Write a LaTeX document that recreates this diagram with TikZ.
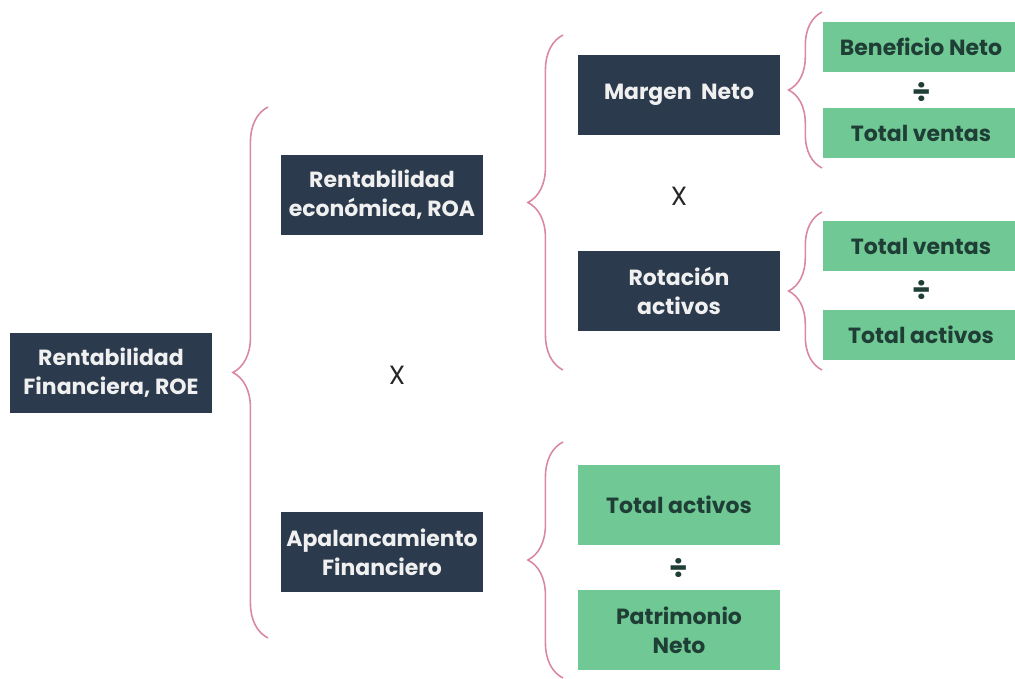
\documentclass[tikz,border=0pt]{standalone}
\usepackage{fontspec}
\setmainfont{Poppins}
\usetikzlibrary{decorations.pathreplacing}

\definecolor{navy}{HTML}{2B3A4D}
\definecolor{mint}{HTML}{70C995}
\definecolor{rosa}{HTML}{D9899F}
\definecolor{pine}{HTML}{1F3E36}

\begin{document}
\begin{tikzpicture}[x=0.02cm,y=-0.02cm]
    \useasboundingbox (0,0) rectangle (1015,679);
    \begin{scope}[every node/.style={align=center,inner sep=0pt,font=\fontsize{12.5}{16.5}\selectfont\bfseries}]
        \begin{scope}[every node/.append style={fill=navy,text=white!94!black,minimum width=4.06cm,minimum height=1.6cm}]
            \node (roe) at (111,373) {Rentabilidad\\Financiera, ROE};
            \node (roa) at (382,195) {Rentabilidad\\económica, ROA};
            \node (apal) at (382,552) {Apalancamiento\\Financiero};
            \node (margen) at (679,95) {Margen~~Neto};
            \node (rotacion) at (679,291) {Rotación\\activos};
        \end{scope}
        \begin{scope}[every node/.append style={fill=mint,text=pine}]
            \node[minimum width=4cm,minimum height=1.02cm] (benef) at (923,47) {\hspace*{-0.08cm}Beneficio Neto};
            \node[minimum width=4cm,minimum height=1.02cm] (ventasA) at (923,133) {\hspace*{-0.08cm}Total ventas};
            \node[minimum width=4cm,minimum height=1.02cm] (ventasB) at (923,246) {\hspace*{-0.08cm}Total ventas};
            \node[minimum width=4cm,minimum height=1.02cm] (activosA) at (923,335) {\hspace*{-0.08cm}Total activos};
            \node[minimum width=4.06cm,minimum height=1.6cm] (activosB) at (679,505) {Total activos};
            \node[minimum width=4.06cm,minimum height=1.6cm] (patrimonio) at (679,630) {Patrimonio\\Neto};
        \end{scope}
    \end{scope}
    \begin{scope}[every node/.style={font=\fontsize{15}{18}\selectfont,text=black!85}]
        \node (por1) at (397,375) {X};
        \node (por2) at (679,196) {X};
    \end{scope}
    \begin{scope}[every node/.style={font=\fontsize{17}{18}\selectfont\bfseries,text=pine}]
        \node (div1) at (922,92) {÷};
        \node (div2) at (922,290) {÷};
        \node (div3) at (679,568) {÷};
    \end{scope}
    \begin{scope}[llave/.style={draw=rosa,line width=0.9pt,decorate,decoration={brace,amplitude=#1}}]
        \draw[llave=20pt] (268,638) -- (268,107);
        \draw[llave=20pt] (563,370) -- (563,35);
        \draw[llave=19pt] (822,168) -- (822,12);
        \draw[llave=19pt] (822,370) -- (822,212);
        \draw[llave=20pt] (563,678) -- (563,442);
    \end{scope}
\end{tikzpicture}
\end{document}
